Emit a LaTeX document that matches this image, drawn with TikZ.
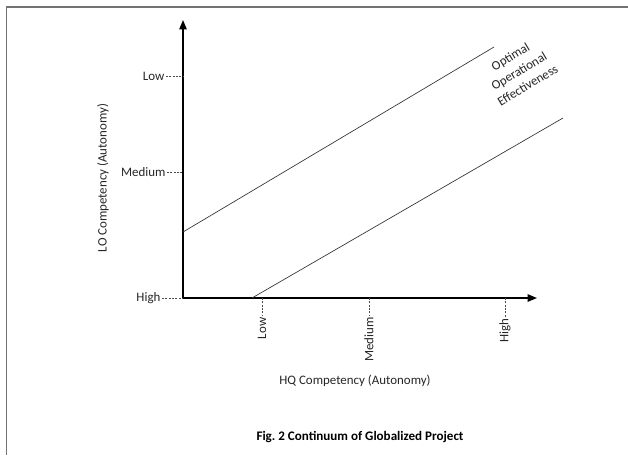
\documentclass[tikz,border=0pt]{standalone}
\usepackage{fontspec}
\setmainfont{Carlito}
\usetikzlibrary{arrows.meta}
\frenchspacing
\tikzset{
  axis/.style={line width=1.1pt, -{Triangle[length=7pt,width=5.5pt]}},
  diag/.style={line width=0.5pt, draw=black!80},
  tickdash/.style={line width=0.5pt, dash pattern=on 1.5pt off 1pt, draw=black!70},
  lbl/.style={font=\fontsize{9.7pt}{12pt}\selectfont, text=black!85, inner sep=1pt},
  frame/.style={line width=1.1pt, draw=black!55}
}
\begin{document}
\begin{tikzpicture}[x=0.75pt,y=-0.75pt]
\useasboundingbox (0,0) rectangle (628,455);
\fill[white] (0,0) rectangle (628,455);
% frame (top and left only)
\draw[frame] (628,7) -- (6.5,7) -- (6.5,455);
% axes
\coordinate (O) at (183,298);
\coordinate (Ytop) at (183,20);
\coordinate (Xend) at (537,298);
\draw[axis] (O) -- (Ytop);
\draw[axis] (O) -- (Xend);
% diagonals
\coordinate (A1) at (183,232);
\coordinate (A2) at (494,47);
\coordinate (B1) at (252,298);
\coordinate (B2) at (563,118);
\draw[diag] (A1) -- (A2);
\draw[diag] (B1) -- (B2);
% y ticks
\node[lbl, anchor=east] (yl) at (166,76) {Low};
\node[lbl, anchor=east] (ym) at (167,172) {Medium};
\node[lbl, anchor=east] (yh) at (162,298) {High};
\coordinate (yla) at (183,76);
\coordinate (yma) at (183,172);
\coordinate (yha) at (183,298);
\draw[tickdash] (yl.east) -- (yla);
\draw[tickdash] (ym.east) -- (yma);
\draw[tickdash] (yh.east) -- (yha);
% x ticks
\coordinate (xla) at (262,298);
\coordinate (xma) at (369,298);
\coordinate (xha) at (505,298);
\node[lbl, anchor=east, rotate=90] (xl) at (262,316) {Low};
\node[lbl, anchor=east, rotate=90] (xm) at (369,316) {Medium};
\node[lbl, anchor=east, rotate=90] (xh) at (505,317) {High};
\draw[tickdash] (xla) -- (xl.east);
\draw[tickdash] (xma) -- (xm.east);
\draw[tickdash] (xha) -- (xh.east);
% axis titles
\node[lbl, rotate=90] (ytitle) at (103,178) {LO Competency (Autonomy)};
\node[lbl] (xtitle) at (355,381) {HQ Competency (Autonomy)};
% annotation
\node[lbl, rotate=31, align=center, font=\fontsize{9.7pt}{12.5pt}\selectfont] (opt) at (519,71) {Optimal\\Operational\\Effectiveness};
% caption
\node[lbl, font=\fontsize{9.8pt}{12pt}\selectfont\bfseries, text=black] (cap) at (360,437) {Fig. 2 Continuum of Globalized Project};
\end{tikzpicture}
\end{document}
